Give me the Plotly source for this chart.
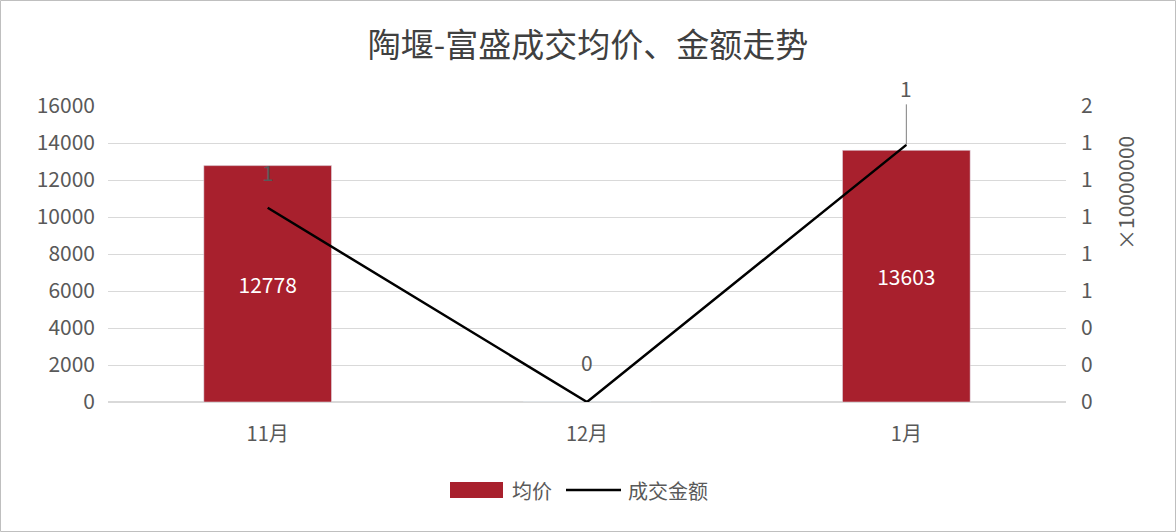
import plotly.graph_objects as go

# data
months = ["11月", "12月", "1月"]
avg_price = [12778, 0, 13603]          # 均价 (left axis)
amount_1e7 = [1.05, 0, 1.39]           # 成交金额, in units of 10,000,000 (right axis)
right_ticks = [0, 0.2, 0.4, 0.6, 0.8, 1.0, 1.2, 1.4, 1.6]

RED = "#A8202D"
GREY_TXT = "#595959"
FONT = "Noto Sans CJK SC"

# plot area in pixels (used for the hand-made legend / frame)
W, H = 1176, 532
L, R, T, B = 108, 110, 106, 130
pw, ph = W - L - R, H - T - B


def px(x):
    return (x - L) / pw


def py(y):
    return (H - B - y) / ph


fig = go.Figure()

# bars
fig.add_trace(go.Bar(
    x=months, y=avg_price, name="均价",
    marker_color=RED, width=0.4,
    text=[str(v) if v else "" for v in avg_price],
    textposition="inside", insidetextanchor="middle",
    textfont=dict(color="white", size=21, family=FONT),
    showlegend=False,
))

# line on secondary axis
fig.add_trace(go.Scatter(
    x=months, y=amount_1e7, name="成交金额", yaxis="y2",
    mode="lines", line=dict(color="black", width=2.5),
    showlegend=False,
))

# line data labels
shifts = [36, 40, None]
for m, v, s in zip(months, amount_1e7, shifts):
    lab = str(round(v))
    if s is not None:
        fig.add_annotation(x=m, y=v, yref="y2", text=lab, showarrow=False,
                           yshift=s, font=dict(size=21, color=GREY_TXT, family=FONT))
    else:
        fig.add_annotation(x=m, y=v, yref="y2", text=lab, showarrow=True,
                           ax=0, ay=-57, arrowhead=0, arrowwidth=1,
                           arrowcolor="#7F7F7F",
                           font=dict(size=21, color=GREY_TXT, family=FONT))

# display unit label of right axis
fig.add_annotation(xref="paper", yref="paper", x=px(1125), y=py(193),
                   xanchor="center", yanchor="middle",
                   text="×10000000", textangle=-90, showarrow=False,
                   font=dict(size=21, color=GREY_TXT, family=FONT))

# legend (drawn by hand to get Excel-like swatches)
fig.add_shape(type="rect", xref="paper", yref="paper",
              x0=px(450), x1=px(503), y0=py(482), y1=py(498),
              fillcolor=RED, line_width=0)
fig.add_annotation(xref="paper", yref="paper", x=px(510), y=py(490),
                   xanchor="left", yanchor="middle", text="均价", showarrow=False,
                   font=dict(size=20, color=GREY_TXT, family=FONT))
fig.add_shape(type="line", xref="paper", yref="paper",
              x0=px(566), x1=px(621), y0=py(490), y1=py(490),
              line=dict(color="black", width=2.5))
fig.add_annotation(xref="paper", yref="paper", x=px(626), y=py(490),
                   xanchor="left", yanchor="middle", text="成交金额", showarrow=False,
                   font=dict(size=20, color=GREY_TXT, family=FONT))

# outer frame
fig.add_shape(type="rect", xref="paper", yref="paper",
              x0=px(0.5), x1=px(W - 0.5), y0=py(0.5), y1=py(H - 0.5),
              line=dict(color="#BFBFBF", width=1))

fig.update_layout(
    width=W, height=H,
    margin=dict(l=L, r=R, t=T, b=B),
    paper_bgcolor="white", plot_bgcolor="white",
    font=dict(family=FONT, color=GREY_TXT),
    title=dict(text="陶堰-富盛成交均价、金额走势", x=0.5, xanchor="center",
               y=1 - 45 / H, yanchor="middle",
               font=dict(size=33, color="#404040", family=FONT)),
    xaxis=dict(showgrid=False, showline=False, ticks="",
               tickfont=dict(size=20, color=GREY_TXT), ticklabelstandoff=18),
    yaxis=dict(range=[0, 16000], dtick=2000, tickformat="d",
               showgrid=True, gridcolor="#D9D9D9",
               zeroline=True, zerolinecolor="#D9D9D9", showline=False,
               tickfont=dict(size=21, color=GREY_TXT), ticklabelstandoff=12),
    yaxis2=dict(range=[0, 1.6], overlaying="y", side="right", showgrid=False,
                zeroline=False, showline=False,
                tickvals=right_ticks, ticktext=[str(round(v)) for v in right_ticks],
                tickfont=dict(size=21, color=GREY_TXT), ticklabelstandoff=14),
    bargap=0.6,
)

fig.write_html("out.html", config={"displayModeBar": False},
               post_script="document.body.style.margin='0';")
